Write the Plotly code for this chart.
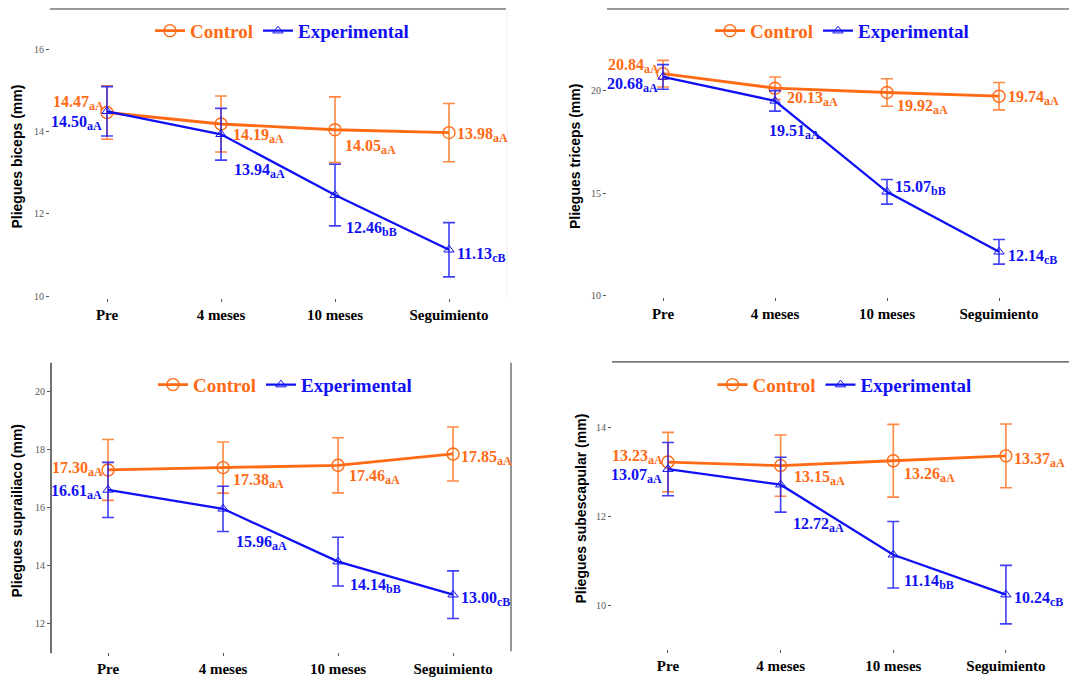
import plotly.graph_objects as go

# ---------------------------------------------------------------- data
stages = ["Pre", "4 meses", "10 meses", "Seguimiento"]
stage_pos = [1, 2, 3, 4]

# Pliegues biceps (mm)
biceps_control = [14.47, 14.19, 14.05, 13.98]
biceps_control_sd = [0.65, 0.68, 0.80, 0.71]
biceps_control_sig = ["aA", "aA", "aA", "aA"]
biceps_exp = [14.50, 13.94, 12.46, 11.13]
biceps_exp_sd = [0.60, 0.63, 0.75, 0.66]
biceps_exp_sig = ["aA", "aA", "bB", "cB"]

# Pliegues triceps (mm)
triceps_control = [20.84, 20.13, 19.92, 19.74]
triceps_control_sd = [0.65, 0.55, 0.67, 0.67]
triceps_control_sig = ["aA", "aA", "aA", "aA"]
triceps_exp = [20.68, 19.51, 15.07, 12.14]
triceps_exp_sd = [0.60, 0.50, 0.60, 0.60]
triceps_exp_sig = ["aA", "aA", "bB", "cB"]

# Pliegues suprailiaco (mm)
supra_control = [17.30, 17.38, 17.46, 17.85]
supra_control_sd = [1.05, 0.88, 0.95, 0.93]
supra_control_sig = ["aA", "aA", "aA", "aA"]
supra_exp = [16.61, 15.96, 14.14, 13.00]
supra_exp_sd = [0.95, 0.78, 0.84, 0.82]
supra_exp_sig = ["aA", "aA", "bB", "cB"]

# Pliegues subescapular (mm)
subesc_control = [13.23, 13.15, 13.26, 13.37]
subesc_control_sd = [0.67, 0.69, 0.82, 0.72]
subesc_control_sig = ["aA", "aA", "aA", "aA"]
subesc_exp = [13.07, 12.72, 11.14, 10.24]
subesc_exp_sd = [0.60, 0.62, 0.75, 0.66]
subesc_exp_sig = ["aA", "aA", "bB", "cB"]

# ---------------------------------------------------------------- styling
W, H = 1069, 682
ORANGE = "#FF6A14"
BLUE = "#1010F5"
ORANGE_BAR = "rgba(255,106,20,0.8)"
BLUE_BAR = "rgba(16,16,245,0.8)"
SERIF = "Liberation Serif"
SANS = "Liberation Sans"


def fx(px):
    return px / W


def fy(py):
    return 1 - py / H


panels = [
    dict(
        title="Pliegues biceps (mm)",
        ctrl=(biceps_control, biceps_control_sd, biceps_control_sig),
        exp=(biceps_exp, biceps_exp_sd, biceps_exp_sig),
        box=(50, 506, 9, 300), xrange=[0.5, 4.5], yrange=[9.95, 16.99],
        yticks=[10, 12, 14, 16], title_x=17,
        ctrl_place=[("right", -1, 9), ("left", 10, -12), ("left", 8, -17), ("left", 6, -2)],
        exp_place=[("right", -3, -12), ("left", 11, -37), ("left", 9, -34), ("left", 6, -5)],
        frame="top",
    ),
    dict(
        title="Pliegues triceps (mm)",
        ctrl=(triceps_control, triceps_control_sd, triceps_control_sig),
        exp=(triceps_exp, triceps_exp_sd, triceps_exp_sig),
        box=(607, 1069, 9, 299), xrange=[0.5, 4.625], yrange=[9.92, 24.0],
        yticks=[10, 15, 20], title_x=575,
        ctrl_place=[("right", -2, 8), ("left", 10, -11), ("left", 8, -15), ("left", 7, -2)],
        exp_place=[("right", -3, -8), ("left", -8, -31), ("left", 6, 4), ("left", 7, -5)],
        frame="top",
    ),
    dict(
        title="Pliegues suprailiaco (mm)",
        ctrl=(supra_control, supra_control_sd, supra_control_sig),
        exp=(supra_exp, supra_exp_sd, supra_exp_sig),
        box=(51, 511, 365, 656), xrange=[0.504, 4.504], yrange=[11.02, 20.99],
        yticks=[12, 14, 16, 18, 20], title_x=17,
        ctrl_place=[("right", -3, 1), ("left", 8, -13), ("left", 9, -12), ("left", 6, -4)],
        exp_place=[("right", -4, -2), ("left", 11, -34), ("left", 10, -24), ("left", 6, -4)],
        frame="sides",
    ),
    dict(
        title="Pliegues subescapular (mm)",
        ctrl=(subesc_control, subesc_control_sd, subesc_control_sig),
        exp=(subesc_exp, subesc_exp_sd, subesc_exp_sig),
        box=(612, 1069, 364, 653), xrange=[0.503, 4.56], yrange=[9.01, 15.49],
        yticks=[10, 12, 14], title_x=580,
        ctrl_place=[("right", -3, 5), ("left", 11, -12), ("left", 9, -14), ("left", 6, -4)],
        exp_place=[("right", -4, -7), ("left", 10, -40), ("left", 9, -27), ("left", 6, -4)],
        frame="top",
    ),
]

fig = go.Figure()
annotations = []
shapes = []
layout = {}

for i, p in enumerate(panels, start=1):
    sfx = "" if i == 1 else str(i)
    xa, ya = f"x{sfx}", f"y{sfx}"
    leg = "legend" if i == 1 else f"legend{i}"
    left, right, top, bottom = p["box"]

    series = [
        ("Control", p["ctrl"], ORANGE, ORANGE_BAR, "circle-open", 12, 2.8, 1.4, p["ctrl_place"]),
        ("Experimental", p["exp"], BLUE, BLUE_BAR, "triangle-up-open", 9, 2.3, 1.0, p["exp_place"]),
    ]
    for name, (vals, sd, sig), color, bar_color, symbol, msize, lw, mlw, place in series:
        fig.add_trace(go.Scatter(
            x=stage_pos, y=vals, xaxis=xa, yaxis=ya,
            mode="lines+markers",
            name=f"<span style='color:{color}'>{name}</span>",
            legend=leg,
            line=dict(color=color, width=lw),
            marker=dict(symbol=symbol, size=msize, color=color,
                        line=dict(color=color, width=mlw)),
            error_y=dict(type="data", array=sd, visible=True,
                         color=bar_color, thickness=1.6, width=6),
            hoverinfo="skip",
        ))
        for xv, v, s, (xanc, xs, ys) in zip(stage_pos, vals, sig, place):
            annotations.append(dict(
                x=xv, y=v, xref=xa, yref=ya,
                text=f"{v:.2f}<sub><span style='font-size:12px'>{s}</span></sub>",
                showarrow=False, xanchor=xanc, yanchor="middle",
                xshift=xs, yshift=ys,
                font=dict(family=SERIF, size=16, color=color, weight="bold"),
            ))

    layout[f"xaxis{sfx}"] = dict(
        domain=[fx(left), fx(right)], range=p["xrange"], anchor=ya,
        tickvals=stage_pos, ticktext=stages,
        ticks="outside", ticklen=3, tickcolor="#555", tickwidth=1,
        tickfont=dict(family=SERIF, size=15, color="black", weight="bold"),
        showgrid=False, zeroline=False, showline=False, fixedrange=True,
    )
    layout[f"yaxis{sfx}"] = dict(
        domain=[fy(bottom), fy(top)], range=p["yrange"], anchor=xa,
        tickvals=p["yticks"], ticks="outside", ticklen=3,
        tickcolor="#555", tickwidth=1,
        tickfont=dict(family=SERIF, size=10, color="#555"),
        showgrid=False, zeroline=False, showline=False, fixedrange=True,
    )
    layout[leg] = dict(
        orientation="h", x=fx((left + right) / 2 + 4), xanchor="center",
        y=fy(top + 22 if i < 3 else 387), yanchor="middle",
        bgcolor="rgba(0,0,0,0)",
        font=dict(family=SERIF, size=19, weight="bold"),
        itemwidth=30,
    )
    annotations.append(dict(
        x=fx(p["title_x"]), y=fy((top + bottom) / 2 + 3), xref="paper", yref="paper",
        text=p["title"], textangle=-90, showarrow=False,
        xanchor="center", yanchor="middle",
        font=dict(family=SANS, size=14, color="black", weight="bold"),
    ))

    if p["frame"] == "top":
        shapes.append(dict(type="line", xref="paper", yref="paper",
                           x0=fx(left), x1=fx(right), y0=fy(top), y1=fy(top),
                           line=dict(color="#7a7a7a", width=1.6)))
    else:
        shapes.append(dict(type="line", xref="paper", yref="paper",
                           x0=fx(left), x1=fx(left), y0=fy(top), y1=fy(bottom + 1),
                           line=dict(color="#222", width=1.3)))
        shapes.append(dict(type="line", xref="paper", yref="paper",
                           x0=fx(right), x1=fx(right), y0=fy(top), y1=fy(bottom - 1),
                           line=dict(color="#7a7a7a", width=1.6)))

# faint edge to the right of the first panel
shapes.append(dict(type="line", xref="paper", yref="paper",
                   x0=fx(507), x1=fx(507), y0=fy(11), y1=fy(300),
                   line=dict(color="#eeeeee", width=1)))

fig.update_layout(
    width=W, height=H,
    margin=dict(l=0, r=0, t=0, b=0),
    paper_bgcolor="white", plot_bgcolor="rgba(0,0,0,0)",
    annotations=annotations, shapes=shapes,
    **layout,
)

fig.write_html("out.html", include_plotlyjs=True, config={"displayModeBar": False})
